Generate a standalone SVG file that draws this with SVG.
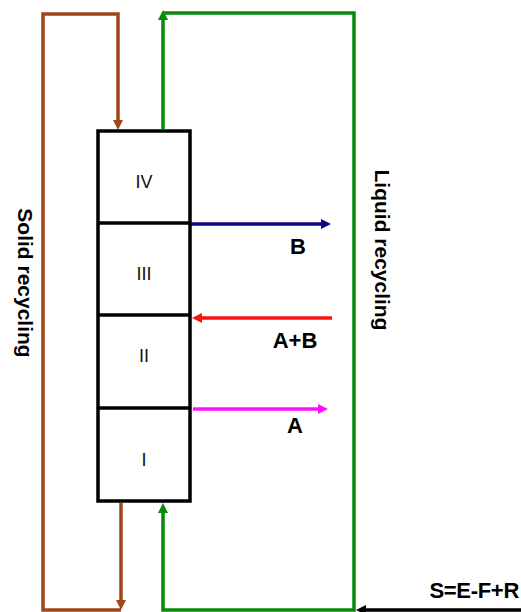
<svg xmlns="http://www.w3.org/2000/svg" width="521" height="612" viewBox="0 0 521 612">
<style>
.ln{fill:none;stroke-width:3.5;stroke-linejoin:miter;stroke-linecap:butt}
.box{fill:#fff;stroke:#000;stroke-width:3.5}
.div{stroke:#000;stroke-width:3.5}
.rn{font-family:"Liberation Sans",Arial,sans-serif;font-size:18px;fill:#111;text-anchor:middle}
.lb{font-family:"Liberation Sans",Arial,sans-serif;font-size:22px;font-weight:bold;fill:#000}
.rot{font-size:21px}
</style>
<defs>
<marker id="mBrown" markerUnits="userSpaceOnUse" markerWidth="12" markerHeight="12" refX="4" refY="6" orient="auto"><path d="M0,1 L10,6 L0,11 z" fill="#A0461A"/></marker>
<marker id="mGreen" markerUnits="userSpaceOnUse" markerWidth="12" markerHeight="12" refX="4" refY="6" orient="auto"><path d="M0,1 L10,6 L0,11 z" fill="#0A8A0A"/></marker>
<marker id="mNavy" markerUnits="userSpaceOnUse" markerWidth="12" markerHeight="12" refX="4" refY="6" orient="auto"><path d="M0,1 L10,6 L0,11 z" fill="#0A0A80"/></marker>
<marker id="mRed" markerUnits="userSpaceOnUse" markerWidth="12" markerHeight="12" refX="4" refY="6" orient="auto"><path d="M0,1 L10,6 L0,11 z" fill="#FF1010"/></marker>
<marker id="mMag" markerUnits="userSpaceOnUse" markerWidth="12" markerHeight="12" refX="4" refY="6" orient="auto"><path d="M0,1 L10,6 L0,11 z" fill="#FF10FF"/></marker>
<marker id="mBlack" markerUnits="userSpaceOnUse" markerWidth="12" markerHeight="12" refX="4" refY="6" orient="auto"><path d="M0,1 L10,6 L0,11 z" fill="#000"/></marker>
</defs>
<rect width="521" height="612" fill="#fff"/>
<g id="connectors">
<path class="ln" stroke="#A0461A" d="M121,503 V604" marker-end="url(#mBrown)"/>
<path class="ln" stroke="#A0461A" d="M121,610 H43 V14 H118 V124" marker-end="url(#mBrown)"/>
<path class="ln" stroke="#0A8A0A" d="M163,129 V16" marker-end="url(#mGreen)"/>
<path class="ln" stroke="#0A8A0A" d="M163,13 H354 V610 H163 V509" marker-end="url(#mGreen)"/>
<path class="ln" stroke="#000" d="M521,610 H362" marker-end="url(#mBlack)"/>
<path class="ln" stroke="#0A0A80" d="M190,224 H325" marker-end="url(#mNavy)"/>
<path class="ln" stroke="#FF1010" d="M332,318 H198" marker-end="url(#mRed)"/>
<path class="ln" stroke="#FF10FF" d="M193,409 H322" marker-end="url(#mMag)"/>
</g>
<g id="column">
<rect class="box" x="98" y="131" width="92" height="370"/>
<line class="div" x1="98" y1="223" x2="190" y2="223"/>
<line class="div" x1="98" y1="315" x2="190" y2="315"/>
<line class="div" x1="98" y1="408" x2="190" y2="408"/>
</g>
<g id="zone-IV"><text class="rn" x="144" y="188">IV</text></g>
<g id="zone-III"><text class="rn" x="144" y="280">III</text></g>
<g id="zone-II"><text class="rn" x="144" y="362">II</text></g>
<g id="zone-I"><text class="rn" x="144" y="466">I</text></g>
<g id="label-B"><text class="lb" x="298" y="254" text-anchor="middle">B</text></g>
<g id="label-AB"><text class="lb" x="295" y="348" text-anchor="middle">A+B</text></g>
<g id="label-A"><text class="lb" x="295" y="433" text-anchor="middle">A</text></g>
<g id="label-S"><text class="lb" x="519" y="598" text-anchor="end" letter-spacing="-0.3">S=E-F+R</text></g>
<g id="label-solid"><text class="lb rot" transform="translate(17.5,283) rotate(90)" text-anchor="middle">Solid recycling</text></g>
<g id="label-liquid"><text class="lb rot" transform="translate(375,250) rotate(90)" text-anchor="middle">Liquid recycling</text></g>
</svg>
